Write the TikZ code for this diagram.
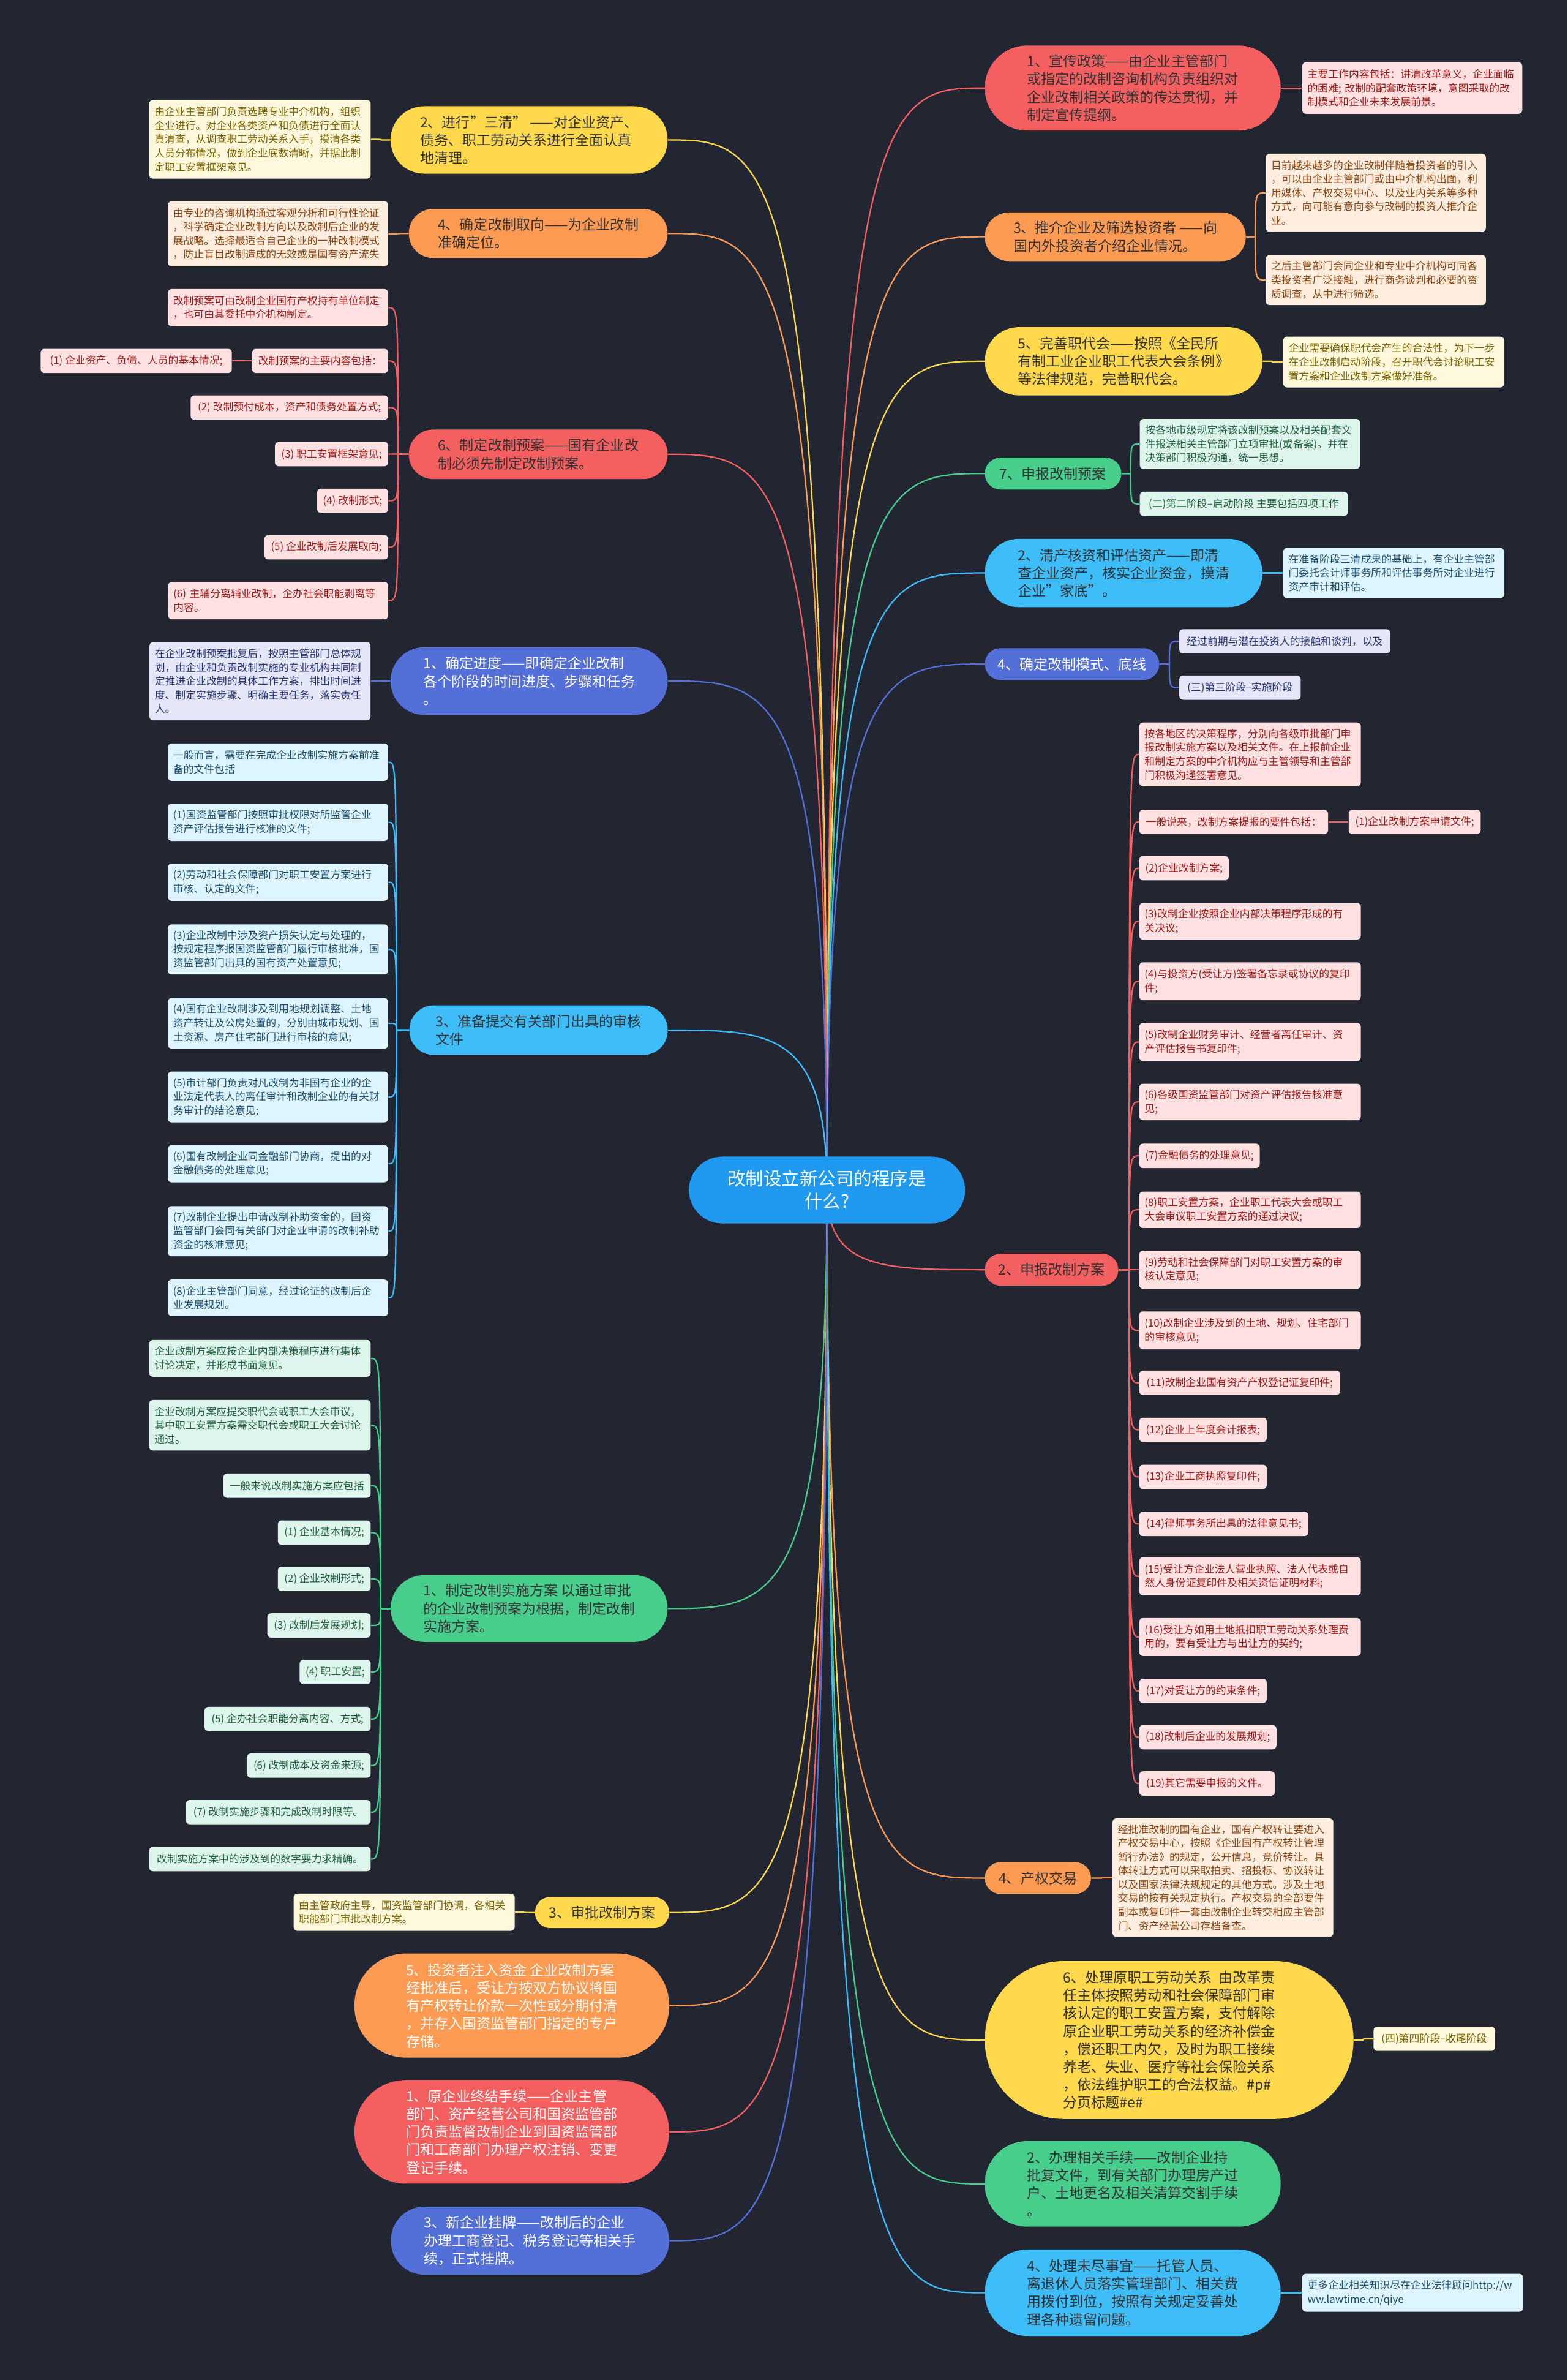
\documentclass[tikz,border=0pt]{standalone}
\usepackage{fontspec}
\setmainfont{Noto Sans CJK SC}
\usetikzlibrary{calc}
\definecolor{bgcol}{HTML}{222633}
\definecolor{cRed}{HTML}{F55F5F}
\definecolor{cOrange}{HTML}{FF9A52}
\definecolor{cYellow}{HTML}{FFD84B}
\definecolor{cGreen}{HTML}{47CD8C}
\definecolor{cSky}{HTML}{3EBDFB}
\definecolor{cIndigo}{HTML}{5370D8}
\definecolor{cCenter}{HTML}{1F9AF0}
\definecolor{darkT}{HTML}{333333}
\definecolor{pinkF}{HTML}{FFE1E1}\definecolor{pinkT}{HTML}{9E1B1B}
\definecolor{orgF}{HTML}{FFEEE0}\definecolor{orgT}{HTML}{8A4510}
\definecolor{yelF}{HTML}{FFF8DC}\definecolor{yelT}{HTML}{7A6500}
\definecolor{grnF}{HTML}{DDF5EA}\definecolor{grnT}{HTML}{1E5E3E}
\definecolor{skyF}{HTML}{DEF5FF}\definecolor{skyT}{HTML}{1C4E6E}
\definecolor{indF}{HTML}{E4E7F8}\definecolor{indT}{HTML}{25306E}
\pgfdeclarelayer{bg}
\pgfsetlayers{bg,main}
\tikzset{
  pillbase/.style={align=left, inner sep=0pt, text=darkT, font=\fontsize{9.3}{11.8}\selectfont},
  cb/.style={align=left, inner xsep=3.5pt, inner ysep=0pt, rounded corners=2.5pt, font=\fontsize{6.8}{9.1}\selectfont},
  pinkb/.style={cb, fill=pinkF, text=pinkT},
  orgb/.style={cb, fill=orgF, text=orgT},
  yelb/.style={cb, fill=yelF, text=yelT},
  grnb/.style={cb, fill=grnF, text=grnT},
  skyb/.style={cb, fill=skyF, text=skyT},
  indb/.style={cb, fill=indF, text=indT},
  conn/.style={line width=0.9pt},
}
% pill: name, cx, cy, w, h, radius, style, text
\newcommand\pill[8]{\node[pillbase,#7,minimum width=#4pt,minimum height=#5pt,rounded corners=#6pt] (#1) at (#2,#3) {#8};}
% multi-line child box anchored by left edge / right edge
\newcommand\cbR[7]{\pgfmathsetlengthmacro\tw{#4pt-7pt}\node[#6,anchor=west,minimum width=#4pt,minimum height=#5pt,text width=\tw] (#1) at (#2,#3) {#7};}
\newcommand\cbL[7]{\pgfmathsetlengthmacro\tw{#4pt-7pt}\node[#6,anchor=east,minimum width=#4pt,minimum height=#5pt,text width=\tw] (#1) at (#2,#3) {#7};}
% single-line child box
\newcommand\sbR[6]{\node[#5,anchor=west,minimum width=#4pt,minimum height=16pt] (#1) at (#2,#3) {#6};}
\newcommand\sbL[6]{\node[#5,anchor=east,minimum width=#4pt,minimum height=16pt] (#1) at (#2,#3) {#6};}
% connectors
\newcommand\rootR[2]{\draw[conn,#1] (ctr.center) .. controls (ctr.center |- #2.west) and ($(ctr.center |- #2.west)!0.35!(#2.west)$) .. (#2.west);}
\newcommand\rootL[2]{\draw[conn,#1] (ctr.center) .. controls (ctr.center |- #2.east) and ($(ctr.center |- #2.east)!0.35!(#2.east)$) .. (#2.east);}
\newcommand\linkR[4]{\draw[conn,#1] (#2.east) -- ++(#4,0) coordinate (tA) .. controls (tA |- #3.west) and (tA |- #3.west) .. (#3.west);}
\newcommand\linkL[4]{\draw[conn,#1] (#2.west) -- ++(-#4,0) coordinate (tA) .. controls (tA |- #3.east) and (tA |- #3.east) .. (#3.east);}

\begin{document}
\begin{tikzpicture}[x=1pt,y=-1pt]
\useasboundingbox (0,0) rectangle (1033,1568);

% ---------- centre ----------
\node[fill=cCenter, text=white, rounded corners=22pt, minimum width=182pt, minimum height=44pt, align=center, inner sep=0pt, font=\fontsize{11.9}{14.8}\selectfont] (ctr) at (545,784) {改制设立新公司的程序是\\什么?};

% ---------- right main nodes ----------
\pill{R1}{746.5}{58}{195}{56}{28}{fill=cRed}{1、宣传政策——由企业主管部门\\或指定的改制咨询机构负责组织对\\企业改制相关政策的传达贯彻，并\\制定宣传提纲。}
\pill{R3}{735}{156}{172}{32}{16}{fill=cOrange}{3、推介企业及筛选投资者 ——向\\国内外投资者介绍企业情况。}
\pill{R5}{740.5}{238}{183}{45}{22.5}{fill=cYellow}{5、完善职代会——按照《全民所\\有制工业企业职工代表大会条例》\\等法律规范，完善职代会。}
\pill{R7}{694}{312}{90}{21}{10.5}{fill=cGreen}{7、申报改制预案}
\pill{R2}{740.5}{377.5}{183}{45}{22.5}{fill=cSky}{2、清产核资和评估资产——即清\\查企业资产，核实企业资金，摸清\\企业"家底"。}
\pill{R4}{706.5}{437.5}{115}{21}{10.5}{fill=cIndigo,text=white}{4、确定改制模式、底线}
\pill{R2b}{693}{836.5}{88}{21}{10.5}{fill=cRed}{2、申报改制方案}
\pill{R4b}{684}{1237.3}{70}{21}{10.5}{fill=cOrange}{4、产权交易}
\pill{R6}{770.5}{1344}{243}{104}{52}{fill=cYellow}{6、处理原职工劳动关系~~由改革责\\任主体按照劳动和社会保障部门审\\核认定的职工安置方案，支付解除\\原企业职工劳动关系的经济补偿金\\，偿还职工内欠，及时为职工接续\\养老、失业、医疗等社会保险关系\\，依法维护职工的合法权益。\#p\#\\分页标题\#e\#}
\pill{R2c}{746.5}{1438.8}{195}{56.4}{28}{fill=cGreen}{2、办理相关手续——改制企业持\\批复文件，到有关部门办理房产过\\户、土地更名及相关清算交割手续\\。}
\pill{R4c}{746.5}{1510.5}{195}{57}{28.5}{fill=cSky}{4、处理未尽事宜——托管人员、\\离退休人员落实管理部门、相关费\\用拨付到位，按照有关规定妥善处\\理各种遗留问题。}

% ---------- left main nodes ----------
\pill{L2}{348.7}{92.2}{182.5}{44.4}{22}{fill=cYellow}{2、进行"三清" ——对企业资产、\\债务、职工劳动关系进行全面认真\\地清理。}
\pill{L4}{354.7}{153.8}{170.5}{32.4}{16}{fill=cOrange}{4、确定改制取向——为企业改制\\准确定位。}
\pill{L6}{354.7}{299.3}{170.5}{32.6}{16}{fill=cRed}{6、制定改制预案——国有企业改\\制必须先制定改制预案。}
\pill{L1}{348.7}{448.7}{182.5}{44.5}{22}{fill=cIndigo,text=white}{1、确定进度——即确定企业改制\\各个阶段的时间进度、步骤和任务\\。}
\pill{L3}{354.9}{678.7}{170.2}{32.6}{16}{fill=cSky}{3、准备提交有关部门出具的审核\\文件}
\pill{L1b}{348.7}{1059.7}{182.5}{44}{22}{fill=cGreen}{1、制定改制实施方案 以通过审批\\的企业改制预案为根据，制定改制\\实施方案。}
\pill{L3b}{396.8}{1260}{88.4}{20.5}{10}{fill=cYellow}{3、审批改制方案}
\pill{L5}{337.3}{1321.3}{207.4}{68.6}{34}{fill=cOrange,text=white}{5、投资者注入资金 企业改制方案\\经批准后，受让方按双方协议将国\\有产权转让价款一次性或分期付清\\，并存入国资监管部门指定的专户\\存储。}
\pill{L1c}{337.3}{1404.5}{207.4}{68.3}{34}{fill=cRed,text=white}{1、原企业终结手续——企业主管\\部门、资产经营公司和国资监管部\\门负责监督改制企业到国资监管部\\门和工商部门办理产权注销、变更\\登记手续。}
\pill{L3c}{349.3}{1476.2}{183.3}{44.8}{22}{fill=cIndigo,text=white}{3、新企业挂牌——改制后的企业\\办理工商登记、税务登记等相关手\\续，正式挂牌。}

% ---------- right children ----------
\cbR{R1x}{858}{58}{145}{34}{pinkb}{主要工作内容包括：讲清改革意义，企业面临\\的困难; 改制的配套政策环境，意图采取的改\\制模式和企业未来发展前景。}
\cbR{R3x1}{834}{127}{145}{51.5}{orgb}{目前越来越多的企业改制伴随着投资者的引入\\，可以由企业主管部门或由中介机构出面，利\\用媒体、产权交易中心、以及业内关系等多种\\方式，向可能有意向参与改制的投资人推介企\\业。}
\cbR{R3x2}{834}{184.5}{145}{33}{orgb}{之后主管部门会同企业和专业中介机构可同各\\类投资者广泛接触，进行商务谈判和必要的资\\质调查，从中进行筛选。}
\cbR{R5x}{845.5}{238.5}{145.5}{33.5}{yelb}{企业需要确保职代会产生的合法性，为下一步\\在企业改制启动阶段，召开职代会讨论职工安\\置方案和企业改制方案做好准备。}
\cbR{R7x1}{751}{292.5}{145}{33}{grnb}{按各地市级规定将该改制预案以及相关配套文\\件报送相关主管部门立项审批(或备案)。并在\\决策部门积极沟通，统一思想。}
\sbR{R7x2}{751}{332}{137}{grnb}{(二)第二阶段--启动阶段 主要包括四项工作}
\cbR{R2x}{845.5}{377.5}{145.5}{33}{skyb}{在准备阶段三清成果的基础上，有企业主管部\\门委托会计师事务所和评估事务所对企业进行\\资产审计和评估。}
\sbR{R4x1}{777}{422.5}{139}{indb}{经过前期与潜在投资人的接触和谈判，以及}
\sbR{R4x2}{777}{453}{80}{indb}{(三)第三阶段--实施阶段}

\cbR{s1}{750.6}{497}{146}{42}{pinkb}{按各地区的决策程序，分别向各级审批部门申\\报改制实施方案以及相关文件。在上报前企业\\和制定方案的中介机构应与主管领导和主管部\\门积极沟通签署意见。}
\sbR{s2}{750.6}{541.5}{124.4}{pinkb}{一般说来，改制方案提报的要件包括：}
\sbR{s2a}{888.6}{541.5}{87}{pinkb}{(1)企业改制方案申请文件;}
\sbR{s3}{750.6}{572}{59}{pinkb}{(2)企业改制方案;}
\cbR{s4}{750.6}{607}{146}{24}{pinkb}{(3)改制企业按照企业内部决策程序形成的有\\关决议;}
\cbR{s5}{750.6}{646.5}{146}{25}{pinkb}{(4)与投资方(受让方)签署备忘录或协议的复印\\件;}
\cbR{s6}{750.6}{686.5}{146}{25}{pinkb}{(5)改制企业财务审计、经营者离任审计、资\\产评估报告书复印件;}
\cbR{s7}{750.6}{726}{146}{24}{pinkb}{(6)各级国资监管部门对资产评估报告核准意\\见;}
\sbR{s8}{750.6}{761.5}{79.4}{pinkb}{(7)金融债务的处理意见;}
\cbR{s9}{750.6}{797}{146}{24}{pinkb}{(8)职工安置方案，企业职工代表大会或职工\\大会审议职工安置方案的通过决议;}
\cbR{s10}{750.6}{836.5}{146}{25}{pinkb}{(9)劳动和社会保障部门对职工安置方案的审\\核认定意见;}
\cbR{s11}{750.6}{876.5}{146}{25}{pinkb}{(10)改制企业涉及到的土地、规划、住宅部门\\的审核意见;}
\sbR{s12}{750.6}{911}{132.4}{pinkb}{(11)改制企业国有资产产权登记证复印件;}
\sbR{s13}{750.6}{942}{84}{pinkb}{(12)企业上年度会计报表;}
\sbR{s14}{750.6}{973}{84}{pinkb}{(13)企业工商执照复印件;}
\sbR{s15}{750.6}{1004}{111.4}{pinkb}{(14)律师事务所出具的法律意见书;}
\cbR{s16}{750.6}{1038.5}{146}{25}{pinkb}{(15)受让方企业法人营业执照、法人代表或自\\然人身份证复印件及相关资信证明材料;}
\cbR{s17}{750.6}{1078.5}{146}{25}{pinkb}{(16)受让方如用土地抵扣职工劳动关系处理费\\用的，要有受让方与出让方的契约;}
\sbR{s18}{750.6}{1114}{84}{pinkb}{(17)对受让方的约束条件;}
\sbR{s19}{750.6}{1144.5}{90.4}{pinkb}{(18)改制后企业的发展规划;}
\sbR{s20}{750.6}{1175}{89.4}{pinkb}{(19)其它需要申报的文件。}

\cbR{R4bx}{733}{1237}{145.5}{78}{orgb}{经批准改制的国有企业，国有产权转让要进入\\产权交易中心，按照《企业国有产权转让管理\\暂行办法》的规定，公开信息，竞价转让。具\\体转让方式可以采取拍卖、招投标、协议转让\\以及国家法律法规规定的其他方式。涉及土地\\交易的按有关规定执行。产权交易的全部要件\\副本或复印件一套由改制企业转交相应主管部\\门、资产经营公司存档备查。}
\sbR{R6x}{905}{1343.2}{80}{yelb}{(四)第四阶段--收尾阶段}
\cbR{R4cx}{858}{1510.5}{145.5}{25}{skyb}{更多企业相关知识尽在企业法律顾问http://w\\ww.lawtime.cn/qiye}

% ---------- left children ----------
\cbL{L2x}{244.5}{91.8}{146}{51.7}{yelb}{由企业主管部门负责选聘专业中介机构，组织\\企业进行。对企业各类资产和负债进行全面认\\真清查，从调查职工劳动关系入手，摸清各类\\人员分布情况，做到企业底数清晰，并据此制\\定职工安置框架意见。}
\cbL{L4x}{256}{154}{145.2}{42.8}{orgb}{由专业的咨询机构通过客观分析和可行性论证\\，科学确定企业改制方向以及改制后企业的发\\展战略。选择最适合自己企业的一种改制模式\\，防止盲目改制造成的无效或是国有资产流失}

\cbL{l6a}{256}{202.7}{145.2}{24.5}{pinkb}{改制预案可由改制企业国有产权持有单位制定\\，也可由其委托中介机构制定。}
\sbL{l6b}{256}{237.8}{89.6}{pinkb}{改制预案的主要内容包括：}
\sbL{l6b1}{153}{237.8}{126}{pinkb}{(1) 企业资产、负债、人员的基本情况;}
\sbL{l6c}{256}{268.5}{130.2}{pinkb}{(2) 改制预付成本，资产和债务处置方式;}
\sbL{l6d}{256}{299.2}{74.6}{pinkb}{(3) 职工安置框架意见;}
\sbL{l6e}{256}{329.9}{46.8}{pinkb}{(4) 改制形式;}
\sbL{l6f}{256}{360.5}{81.5}{pinkb}{(5) 企业改制后发展取向;}
\cbL{l6g}{256}{395.7}{145}{24.6}{pinkb}{(6) 主辅分离辅业改制，企办社会职能剥离等\\内容。}

\cbL{L1x}{244.4}{448.8}{145.7}{51.6}{indb}{在企业改制预案批复后，按照主管部门总体规\\划，由企业和负责改制实施的专业机构共同制\\定推进企业改制的具体工作方案，排出时间进\\度、制定实施步骤、明确主要任务，落实责任\\人。}

\cbL{b1}{256}{502.1}{145.2}{24.6}{skyb}{一般而言，需要在完成企业改制实施方案前准\\备的文件包括}
\cbL{b2}{256}{541.7}{145.2}{24.6}{skyb}{(1)国资监管部门按照审批权限对所监管企业\\资产评估报告进行核准的文件;}
\cbL{b3}{256}{581.2}{145.2}{24.5}{skyb}{(2)劳动和社会保障部门对职工安置方案进行\\审核、认定的文件;}
\cbL{b4}{256}{625.5}{145.2}{33}{skyb}{(3)企业改制中涉及资产损失认定与处理的，\\按规定程序报国资监管部门履行审核批准，国\\资监管部门出具的国有资产处置意见;}
\cbL{b5}{256}{674.2}{145.2}{33.3}{skyb}{(4)国有企业改制涉及到用地规划调整、土地\\资产转让及公房处置的，分别由城市规划、国\\土资源、房产住宅部门进行审核的意见;}
\cbL{b6}{256}{722.7}{145.2}{33.5}{skyb}{(5)审计部门负责对凡改制为非国有企业的企\\业法定代表人的离任审计和改制企业的有关财\\务审计的结论意见;}
\cbL{b7}{256}{766.7}{145.2}{24.5}{skyb}{(6)国有改制企业同金融部门协商，提出的对\\金融债务的处理意见;}
\cbL{b8}{256}{811.1}{145.2}{33}{skyb}{(7)改制企业提出申请改制补助资金的，国资\\监管部门会同有关部门对企业申请的改制补助\\资金的核准意见;}
\cbL{b9}{256}{855}{145.2}{24}{skyb}{(8)企业主管部门同意，经过论证的改制后企\\业发展规划。}

\cbL{g1}{244.5}{894.9}{146}{24.2}{grnb}{企业改制方案应按企业内部决策程序进行集体\\讨论决定，并形成书面意见。}
\cbL{g2}{244.5}{939}{146}{33.3}{grnb}{企业改制方案应提交职代会或职工大会审议，\\其中职工安置方案需交职代会或职工大会讨论\\通过。}
\sbL{g3}{244.5}{978.8}{97.1}{grnb}{一般来说改制实施方案应包括}
\sbL{g4}{244.5}{1009.7}{61.2}{grnb}{(1) 企业基本情况;}
\sbL{g5}{244.5}{1040.2}{61.2}{grnb}{(2) 企业改制形式;}
\sbL{g6}{244.5}{1070.9}{68.1}{grnb}{(3) 改制后发展规划;}
\sbL{g7}{244.5}{1101.5}{46.8}{grnb}{(4) 职工安置;}
\sbL{g8}{244.5}{1132.5}{109.5}{grnb}{(5) 企办社会职能分离内容、方式;}
\sbL{g9}{244.5}{1163.2}{81.5}{grnb}{(6) 改制成本及资金来源;}
\sbL{g10}{244.5}{1193.9}{121.7}{grnb}{(7) 改制实施步骤和完成改制时限等。}
\sbL{g11}{244.5}{1224.8}{146}{grnb}{改制实施方案中的涉及到的数字要力求精确。}

\cbL{L3bx}{339.4}{1259.8}{145.7}{24.5}{yelb}{由主管政府主导，国资监管部门协调，各相关\\职能部门审批改制方案。}

% ---------- connectors ----------
\begin{pgfonlayer}{bg}
\fill[bgcol] (0,0) rectangle (1033,1568);
% root
\rootR{cRed}{R1}\rootR{cOrange}{R3}\rootR{cYellow}{R5}\rootR{cGreen}{R7}
\rootR{cSky}{R2}\rootR{cIndigo}{R4}\rootR{cRed}{R2b}\rootR{cOrange}{R4b}
\rootR{cYellow}{R6}\rootR{cGreen}{R2c}\rootR{cSky}{R4c}
\rootL{cYellow}{L2}\rootL{cOrange}{L4}\rootL{cRed}{L6}\rootL{cIndigo}{L1}
\rootL{cSky}{L3}\rootL{cGreen}{L1b}\rootL{cYellow}{L3b}\rootL{cOrange}{L5}
\rootL{cRed}{L1c}\rootL{cIndigo}{L3c}
% right children
\linkR{cRed}{R1}{R1x}{7}
\linkR{cOrange}{R3}{R3x1}{6}\linkR{cOrange}{R3}{R3x2}{6}
\linkR{cYellow}{R5}{R5x}{6}
\linkR{cGreen}{R7}{R7x1}{6}\linkR{cGreen}{R7}{R7x2}{6}
\linkR{cSky}{R2}{R2x}{6}
\linkR{cIndigo}{R4}{R4x1}{6.5}\linkR{cIndigo}{R4}{R4x2}{6.5}
\foreach \k in {s1,s2,s3,s4,s5,s6,s7,s8,s9,s10,s11,s12,s13,s14,s15,s16,s17,s18,s19,s20}{\linkR{cRed}{R2b}{\k}{7}}
\draw[conn,cRed] (s2.east) -- (s2a.west);
\linkR{cOrange}{R4b}{R4bx}{7}
\linkR{cYellow}{R6}{R6x}{6}
\linkR{cSky}{R4c}{R4cx}{7}
% left children
\linkL{cYellow}{L2}{L2x}{6}
\linkL{cOrange}{L4}{L4x}{6}
\foreach \k in {l6a,l6b,l6c,l6d,l6e,l6f,l6g}{\linkL{cRed}{L6}{\k}{7}}
\draw[conn,cRed] (l6b.west) -- (l6b1.east);
\linkL{cIndigo}{L1}{L1x}{6}
\foreach \k in {b1,b2,b3,b4,b5,b6,b7,b8,b9}{\linkL{cSky}{L3}{\k}{8.4}}
\foreach \k in {g1,g2,g3,g4,g5,g6,g7,g8,g9,g10,g11}{\linkL{cGreen}{L1b}{\k}{6.5}}
\linkL{cYellow}{L3b}{L3bx}{6.5}
\end{pgfonlayer}
\end{tikzpicture}
\end{document}
